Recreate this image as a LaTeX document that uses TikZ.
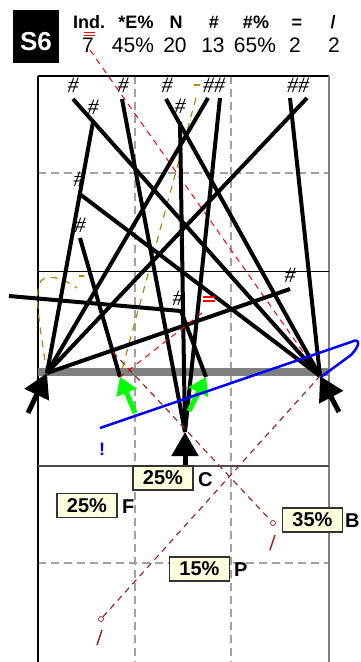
\documentclass[tikz,border=0pt]{standalone}
\usepackage{fontspec}
\setmainfont{Liberation Sans}
\newfontfamily\hashfont{Liberation Serif}
\usetikzlibrary{arrows.meta}
\definecolor{gridgray}{HTML}{A0A0A0}
\definecolor{bargray}{HTML}{808080}
\definecolor{lblfill}{HTML}{FFFFE0}
\definecolor{drk}{HTML}{A02828}
\definecolor{gold}{HTML}{B8860B}
\definecolor{brightgreen}{HTML}{00FF00}
\begin{document}
\begin{tikzpicture}[x=1pt,y=-1pt,
  gridline/.style={gridgray,line width=1.2,dash pattern=on 8pt off 5pt},
  bl/.style={black,line width=4},
  bigarrow/.style={black,line width=5,-{Triangle[length=24pt,width=26pt]}},
  grarrow/.style={brightgreen,line width=5,-{Triangle[length=17pt,width=21pt]}},
  hashmark/.style={font=\hashfont\itshape\fontsize{22}{22}\selectfont,inner sep=0},
  hdr/.style={font=\bfseries\fontsize{18}{18}\selectfont,anchor=base,inner sep=0},
  val/.style={font=\fontsize{21}{21}\selectfont,anchor=base,inner sep=0},
  lbl/.style={draw=black!80,line width=1.2,fill=lblfill,minimum width=60pt,minimum height=24pt,inner sep=0,font=\bfseries\fontsize{20}{20}\selectfont},
  lbltag/.style={anchor=base west,inner sep=0,font=\bfseries\fontsize{20}{20}\selectfont},
  drkdash/.style={drk,line width=1.2,dash pattern=on 6pt off 5pt},
  reddash/.style={red,line width=1,dash pattern=on 6pt off 5pt},
  golddash/.style={gold,line width=1.2,dash pattern=on 7pt off 6pt},
  smallcirc/.style={circle,draw=drk,line width=0.8,fill=white,inner sep=0,minimum size=5pt}]
\useasboundingbox (0,0) rectangle (360,662);
% grid
\draw[gridline] (135,76) -- (135,662);
\draw[gridline] (231,76) -- (231,662);
\draw[gridline] (38,173) -- (329,173);
\draw[gridline] (38,563) -- (329,563);
% frame
\draw[black,line width=1.2] (38,76) -- (38,662);
\draw[black,line width=1.5] (38,76) -- (329,76);
\draw[bargray,line width=2] (329,76) -- (329,662);
\draw[black,line width=1] (38,271) -- (329,271);
\draw[bargray,line width=8] (38,372) -- (329,372);
\draw[black!70,line width=2] (38,466) -- (329,466);
% header
\node[fill=black,minimum width=46pt,minimum height=53pt,inner sep=0] (s6box) at (36,36.5) {};
\node[font=\bfseries\fontsize{26}{26}\selectfont,text=white,anchor=base,inner sep=0] (s6) at (36,50) {S6};
\node[hdr] (h-ind) at (89,28) {Ind.};
\node[hdr] (h-e) at (136,28) {*E\%};
\node[hdr] (h-n) at (176,28) {N};
\node[hdr] (h-h) at (214,28) {\#};
\node[hdr] (h-hp) at (256,28) {\#\%};
\node[hdr] (h-eq) at (297,28) {=};
\node[hdr] (h-sl) at (333,28) {/};
\node[val] (v-ind) at (88,52) {7};
\node[val] (v-e) at (133,52) {45\%};
\node[val] (v-n) at (175,52) {20};
\node[val] (v-h) at (213,52) {13};
\node[val] (v-hp) at (255,52) {65\%};
\node[val] (v-eq) at (295,52) {2};
\node[val] (v-sl) at (334,52) {2};
\draw[red,line width=1.2] (84,32.5) -- (95,32.5) (84,35.5) -- (95,35.5);
% anchors
\coordinate (L) at (47,373);
\coordinate (C) at (185,432);
\coordinate (R) at (320,376);
\coordinate (G1) at (120,377);
\coordinate (G2) at (206,377);
% hash marks
\node[hashmark] (m1) at (73,85) {\#};
\node[hashmark] (m2) at (93,107) {\#};
\node[hashmark] (m3) at (123,85) {\#};
\node[hashmark] (m4) at (167,85) {\#};
\node[hashmark] (m5) at (180,106) {\#};
\node[hashmark] (m6) at (214,85) {\#\#};
\node[hashmark] (m7) at (298,85) {\#\#};
\node[hashmark] (m8) at (79,179) {\#};
\node[hashmark] (m9) at (80,225) {\#};
\node[hashmark] (m10) at (178,298) {\#};
\node[hashmark] (m11) at (290,275) {\#};
\coordinate (s1) at (73,99);
\coordinate (s2) at (93,122);
\coordinate (s3) at (122,99);
\coordinate (s4) at (166,99);
\coordinate (s5) at (180,122);
\coordinate (s6a) at (208,98);
\coordinate (s6b) at (220,98);
\coordinate (s7a) at (290,98);
\coordinate (s7b) at (307,98);
\coordinate (s8) at (81,195);
\coordinate (s9) at (80,238);
\coordinate (s10) at (181,311);
\coordinate (s11) at (290,289);
\coordinate (w) at (9,296);
% dashed coloured lines
\draw[reddash] (90,50) -- (R);
\draw[golddash] (196,98) -- (G1);
\draw[gold,line width=1.2] (194,85) -- (200,85);
\draw[golddash] (L) .. controls (37,310) and (33,282) .. (45,278) .. controls (55,275) and (68,282) .. (77,288);
\draw[gold,line width=1.2] (79,276) -- (84,276);
% black lines
\draw[bl] (s1) -- (R);
\draw[bl] (s2) -- (L);
\draw[bl] (s3) -- (C);
\draw[bl] (s4) -- (R);
\draw[bl] (s5) -- (C);
\draw[bl] (s6a) -- (L);
\draw[bl] (s6b) -- (C);
\draw[bl] (s7a) -- (R);
\draw[bl] (s7b) -- (L);
\draw[bl] (s8) -- (R);
\draw[bl] (s9) -- (G1);
\draw[bl] (s10) -- (G2);
\draw[bl] (s11) -- (L);
\draw[bl] (w) -- (s10);
% red equals and its dashed line
\draw[red,line width=1.5] (203,297) -- (215,297) (203,301) -- (215,301);
\draw[reddash] (202,313) -- (G1);
% green arrows
\draw[grarrow] (135,413) -- (G1);
\draw[grarrow] (189,411) -- (G2);
% big arrows
\draw[bigarrow] (28,413) -- (L);
\draw[bigarrow] (185,466) -- (C);
\draw[bigarrow] (339,412) -- (R);
% blue path
\draw[blue,line width=2.5,line join=round] (100,428) -- (351,342) .. controls (361,337) and (360,346) .. (351,355) -- (321,377);
\node[font=\bfseries\fontsize{18}{18}\selectfont,text=blue,anchor=base,inner sep=0] (bang) at (102,455) {!};
% circles and dark red dashed
\node[smallcirc] (cb) at (273,523) {};
\node[smallcirc] (cp) at (101,619) {};
\draw[drkdash] (113,352) -- (cb);
\draw[drkdash] (cp) -- (R);
\draw[drk,line width=1.5] (cb) ++(-3,27) -- ++(5,-15);
\draw[drk,line width=1.5] (cp) ++(-4,26) -- ++(5,-15);
% labels
\node[lbl] (lc) at (163,478) {25\%};
\node[lbltag] (tc) at (198,486) {C};
\node[lbl] (lf) at (87,505.5) {25\%};
\node[lbltag] (tf) at (122,513) {F};
\node[lbl] (lb) at (312.5,520) {35\%};
\node[lbltag] (tb) at (345,527) {B};
\node[lbl] (lp) at (199.5,569) {15\%};
\node[lbltag] (tp) at (234,576) {P};
\end{tikzpicture}
\end{document}
